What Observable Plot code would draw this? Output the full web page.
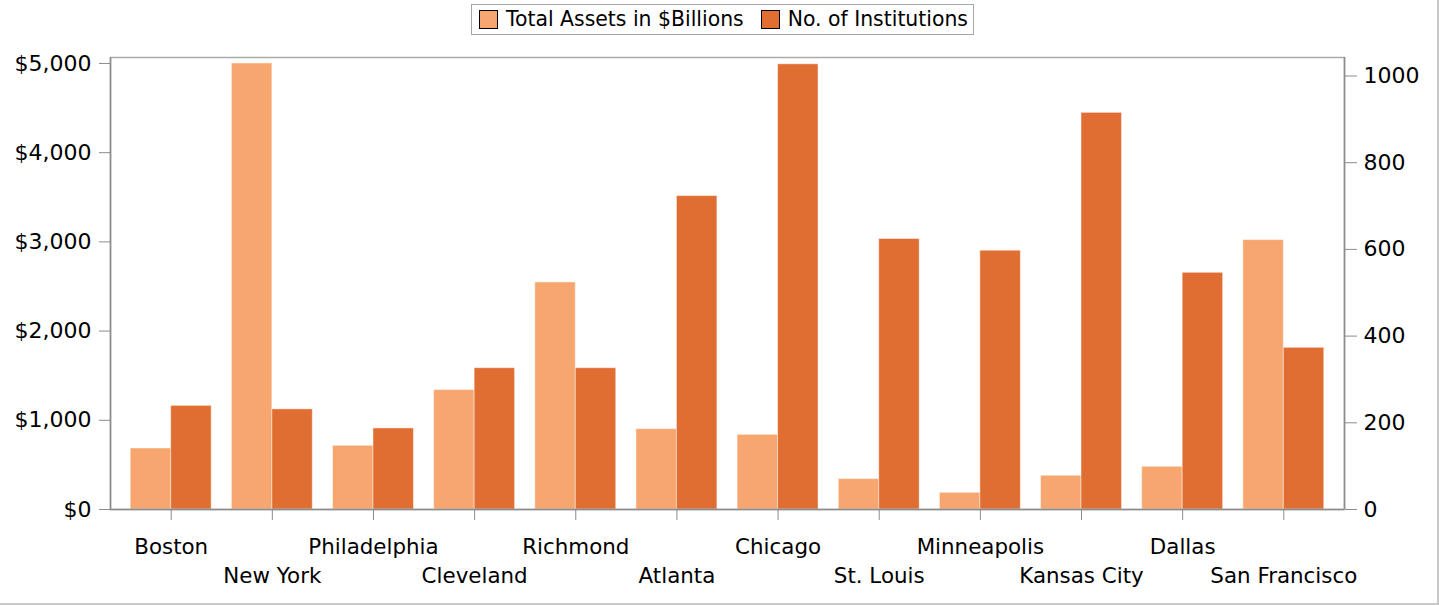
<!DOCTYPE html>
<html>
<head>
<meta charset="utf-8">
<script src="https://cdn.jsdelivr.net/npm/d3@7"></script>
<script src="https://cdn.jsdelivr.net/npm/@observablehq/plot@0.6"></script>
<style>
  html, body { margin: 0; padding: 0; background: #fff; }
  #chart { position: relative; width: 1437px; height: 603px; border-right: 2px solid #c8c8c8; border-bottom: 2px solid #c8c8c8; background: #fff; font-family: "DejaVu Sans", sans-serif; color: #000; overflow: hidden; }
  #legend { height: 40px; display: flex; justify-content: center; align-items: flex-start; }
  #legend .box { margin-top: 4px; margin-left: 8px; border: 1px solid #a6a6a6; height: 29px; display: flex; align-items: center; padding: 0 5px 0 7px; font-size: 20.4px; line-height: 29px; white-space: nowrap; }
  #legend .sw { width: 17px; height: 17px; border: 1px solid #000; margin-right: 8px; flex: none; }
  #legend .item { display: flex; align-items: center; }
  #legend .item + .item { margin-left: 17px; }
</style>
</head>
<body>
<div id="chart"><div id="legend"></div></div>
<script>
const categories = ["Boston","New York","Philadelphia","Cleveland","Richmond","Atlanta","Chicago","St. Louis","Minneapolis","Kansas City","Dallas","San Francisco"];
const totalAssets = [684, 5000, 714, 1339, 2545, 901, 837, 341, 187, 378, 479, 3020];
const institutions = [239, 231, 187, 326, 326, 723, 1027, 624, 597, 915, 546, 373];
const seriesNames = ["Total Assets in $Billions", "No. of Institutions"];
const seriesColors = ["#F6A66E", "#E06E33"];
const leftTicks = [0, 1000, 2000, 3000, 4000, 5000];
const rightTicks = [0, 200, 400, 600, 800, 1000];
const leftMax = 5067;
const rightMax = 1042.7;
const ratio = leftMax / rightMax;

// legend
const legend = document.getElementById("legend");
const box = document.createElement("div");
box.className = "box";
seriesNames.forEach((name, k) => {
  const item = document.createElement("div");
  item.className = "item";
  const sw = document.createElement("div");
  sw.className = "sw";
  sw.style.background = seriesColors[k];
  const t = document.createElement("span");
  t.textContent = name;
  item.appendChild(sw); item.appendChild(t);
  box.appendChild(item);
});
legend.appendChild(box);

const assetRows = categories.map((c, i) => ({i, v: totalAssets[i]}));
const instRows = categories.map((c, i) => ({i, v: institutions[i]}));
const idx = categories.map((c, i) => i);
const evenIdx = idx.filter(i => i % 2 === 0);
const oddIdx = idx.filter(i => i % 2 === 1);
const fmt = d3.format(",");

const plot = Plot.plot({
  width: 1437,
  height: 563,
  marginTop: 17,
  marginBottom: 94,
  marginLeft: 110,
  marginRight: 93,
  style: {fontFamily: "DejaVu Sans", fontSize: "21px", color: "#000", background: "#fff"},
  x: {type: "linear", domain: [-0.6, 11.6], axis: null},
  y: {domain: [0, leftMax], axis: null, label: null},
  marks: [
    Plot.rectY(assetRows, {x1: d => d.i - 0.4, x2: d => d.i, y: "v", fill: seriesColors[0], stroke: "#fff", strokeOpacity: 0.45, strokeWidth: 1}),
    Plot.rectY(instRows, {x1: d => d.i, x2: d => d.i + 0.4, y: d => d.v * ratio, fill: seriesColors[1], stroke: "#fff", strokeOpacity: 0.45, strokeWidth: 1}),
    Plot.frame({stroke: "#ababab", strokeWidth: 1.5}),
    Plot.ruleY([0], {stroke: "#8c8c8c", strokeWidth: 1.5}),
    Plot.ruleX([-0.6], {stroke: "#8c8c8c", strokeWidth: 1.5}),
    Plot.ruleX([11.6], {stroke: "#8c8c8c", strokeWidth: 1.5}),
    Plot.axisY(leftTicks, {anchor: "left", tickSize: 11, tickPadding: 8, stroke: "#8c8c8c", fill: "#000", fontSize: 22, tickFormat: d => "$" + fmt(d), label: null}),
    Plot.axisY(rightTicks.map(v => v * ratio), {anchor: "right", tickSize: 12, tickPadding: 7, stroke: "#8c8c8c", fill: "#000", fontSize: 22, tickFormat: d => String(Math.round(d / ratio)), label: null}),
    Plot.axisX(evenIdx, {anchor: "bottom", tickSize: 11, tickPadding: 18, stroke: "#8c8c8c", fill: "#000", fontSize: 21.4, tickFormat: i => categories[i], label: null}),
    Plot.axisX(oddIdx, {anchor: "bottom", tickSize: 11, tickPadding: 47, stroke: "#8c8c8c", fill: "#000", fontSize: 21.4, tickFormat: i => categories[i], label: null})
  ]
});
document.getElementById("chart").appendChild(plot);
</script>
</body>
</html>
